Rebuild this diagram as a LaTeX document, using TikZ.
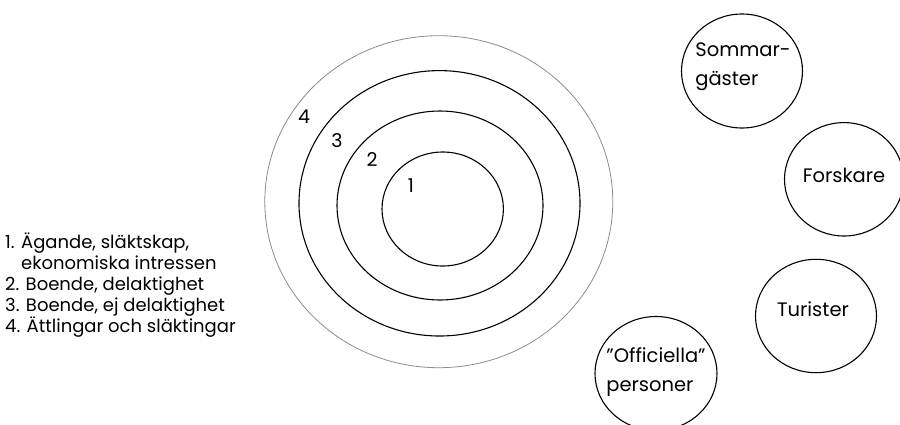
\documentclass[tikz,border=0pt]{standalone}
\usepackage{fontspec}
\setmainfont{Poppins}
\usetikzlibrary{shapes.geometric}
\tikzset{
  ring/.style={draw=black, line width=1.1pt, ellipse, inner sep=0pt},
  outerring/.style={draw=black!45, line width=0.8pt, ellipse, inner sep=0pt},
  group/.style={draw=black, line width=1.1pt, ellipse, inner sep=0pt},
  grouptext/.style={font=\fontsize{19.5}{29}\selectfont, align=left, inner sep=0pt, text=black},
  ringnum/.style={font=\fontsize{19}{20}\selectfont, inner sep=0pt, text=black},
  legendtext/.style={font=\fontsize{18}{20.8}\selectfont, align=left, inner sep=0pt, anchor=north west, text=black}
}
\begin{document}
\begin{tikzpicture}[x=1pt,y=-1pt]
\useasboundingbox (0,0) rectangle (900,424);
% rings
\node[outerring, minimum width=348pt, minimum height=332pt] (r4) at (438.8,201.7) {};
\node[ring, minimum width=281pt, minimum height=265.4pt] (r3) at (439.5,203.3) {};
\node[ring, minimum width=206pt, minimum height=189pt] (r2) at (440,205.5) {};
\node[ring, minimum width=121.4pt, minimum height=114pt] (r1) at (442.7,209) {};
\node[ringnum] (n4) at (304,117) {4};
\node[ringnum] (n3) at (337,141) {3};
\node[ringnum] (n2) at (372,160) {2};
\node[ringnum] (n1) at (411,186) {1};
% legend
\node[legendtext] (legend) at (5,233) {1. Ägande, släktskap,\\
\hphantom{1. }ekonomiska intressen\\
2. Boende, delaktighet\\
3. Boende, ej delaktighet\\
4. Ättlingar och släktingar};
% outer groups
\node[group, minimum width=121pt, minimum height=114pt] (sommar) at (742,71) {};
\node[grouptext] (sommart) at (743,67) {Sommar-\\gäster};
\node[group, minimum width=119pt, minimum height=113.4pt] (forsk) at (844,179.3) {};
\node[grouptext] (forskt) at (844,175) {Forskare};
\node[group, minimum width=121pt, minimum height=113.4pt] (turist) at (816,316) {};
\node[grouptext] (turistt) at (813,309) {Turister};
\node[group, minimum width=122pt, minimum height=114pt] (officiell) at (656,373.5) {};
\node[grouptext] (officiellt) at (656,372) {”Officiella”\\personer};
\end{tikzpicture}
\end{document}
